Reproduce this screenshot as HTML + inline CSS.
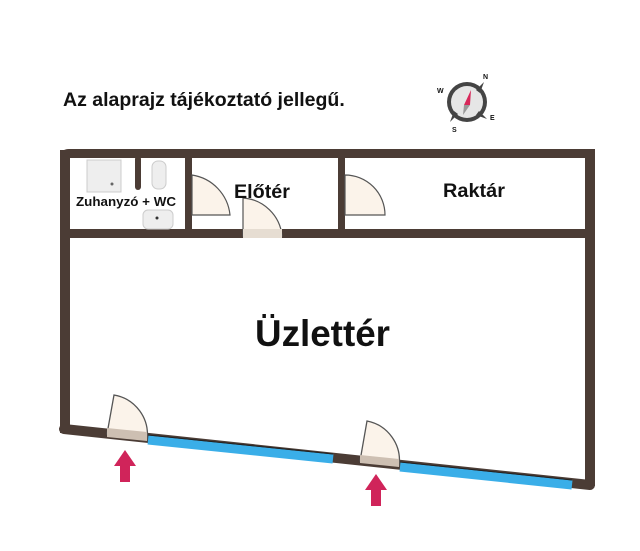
<!DOCTYPE html>
<html><head><meta charset="utf-8"><style>
html,body{margin:0;padding:0;background:#fff;}
svg{display:block;}
text{font-family:"Liberation Sans",sans-serif;font-weight:bold;fill:#111;}
</style></head><body>
<svg width="640" height="551" viewBox="0 0 640 551">
<text x="63" y="106" font-size="19.5">Az alaprajz tájékoztató jellegű.</text>
<!-- compass -->
<g transform="translate(467,102)">
<circle r="20" fill="#444"/>
<circle r="16" fill="#e6e6e6"/>
<polygon points="9,-12 17,-20 13,-9" fill="#444"/>
<polygon points="-9,12 -17,20 -13,9" fill="#444"/>
<polygon points="12,9 20,17 9,13" fill="#444"/>
<polygon points="4,-12 -3,3 3,3" fill="#d8285a"/>
<polygon points="-3,3 3,3 -4,13" fill="#999"/>
<text x="16" y="-23" font-size="7" fill="#777">N</text>
<text x="-30" y="-9" font-size="7" fill="#777">W</text>
<text x="23" y="18" font-size="7" fill="#777">E</text>
<text x="-15" y="30" font-size="7" fill="#777">S</text>
</g>
<g fill="#4b3c35" stroke="none">
<path d="M60,158 Q60,149 69,149 L595,149 L595,158 L60,158Z"/>
<rect x="60" y="150" width="10" height="283"/>
<rect x="585" y="149" width="10" height="337"/>
<rect x="70" y="229" width="515" height="9"/>
<rect x="185" y="156" width="7" height="74"/>
<rect x="338" y="156" width="7" height="74"/>
<rect x="135" y="156" width="6" height="34" rx="3"/>
</g>
<line x1="64" y1="429" x2="590" y2="485" stroke="#4b3c35" stroke-width="10" stroke-linecap="round"/>
<line x1="148" y1="440" x2="333" y2="459" stroke="#3aaee8" stroke-width="9"/>
<line x1="400" y1="467" x2="572" y2="485" stroke="#3aaee8" stroke-width="9"/>
<line x1="148" y1="435" x2="333" y2="454" stroke="#222" stroke-width="1"/>
<line x1="400" y1="462" x2="572" y2="480" stroke="#222" stroke-width="1"/>
<g fill="#fbf3ea" stroke="#555" stroke-width="1.3">
<path d="M107,434 L114,395 A40,40 0 0 1 147,440 Z"/>
<path d="M360,461 L367,421 A40,40 0 0 1 399,466 Z"/>
</g>
<path d="M107,428 L147,432 L147,441 L107,437Z" fill="#cdbfb2"/>
<path d="M360,455 L399,459 L399,467 L360,463Z" fill="#cdbfb2"/>
<g fill="#fbf3ea" stroke="#555" stroke-width="1.2">
<path d="M192,175 A45,45 0 0 1 230,215 L192,215 Z"/>
<path d="M243,198 L243,236 L282,236 A42,42 0 0 0 243,198 Z"/>
<path d="M345,175 A40,40 0 0 1 385,215 L345,215 Z"/>
</g>
<rect x="243" y="229" width="39" height="9" fill="#e6ddd2"/>
<rect x="87" y="160" width="34" height="32" fill="#eee" stroke="#ccc"/>
<circle cx="112" cy="184" r="1.5" fill="#666"/>
<rect x="152" y="161" width="14" height="28" rx="6" fill="#eee" stroke="#ccc"/>
<rect x="143" y="210" width="30" height="19" rx="5" fill="#eee" stroke="#ccc"/>
<circle cx="157" cy="218" r="1.5" fill="#333"/>
<text x="76" y="206" font-size="13" textLength="100" lengthAdjust="spacingAndGlyphs">Zuhanyzó + WC</text>
<text x="234" y="198" font-size="19" textLength="56" lengthAdjust="spacingAndGlyphs">Előtér</text>
<text x="443" y="197" font-size="19" textLength="62" lengthAdjust="spacingAndGlyphs">Raktár</text>
<text x="255" y="346" font-size="37" textLength="135" lengthAdjust="spacingAndGlyphs">Üzlettér</text>
<g fill="#d0245a">
<polygon points="125,450 136,466 130,466 130,482 120,482 120,466 114,466"/>
<polygon points="376,474 387,490 381,490 381,506 371,506 371,490 365,490"/>
</g>
</svg>
</body></html>
